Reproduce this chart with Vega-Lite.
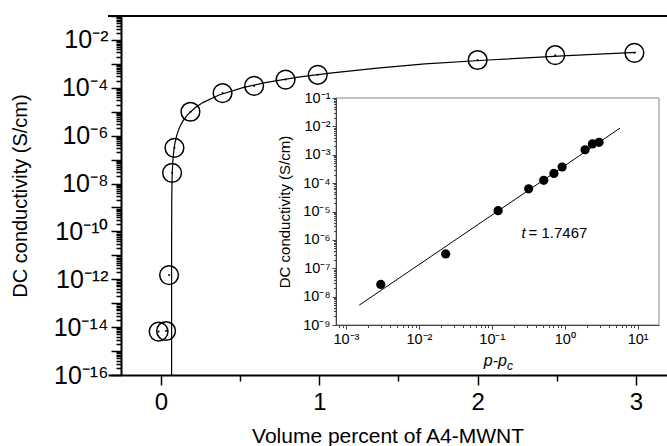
{
  "$schema": "https://vega.github.io/schema/vega-lite/v6.json",
  "width": 559,
  "height": 359,
  "autosize": {"type": "none"},
  "padding": {"left": 108, "top": 16, "right": 0, "bottom": 71},
  "background": "white",
  "config": {"view": {"stroke": null}, "font": "Liberation Sans", "axis": {"grid": false}},
  "datasets": {
    "fit": [
      {"p": 0.067, "sigma": 1e-16},
      {"p": 0.067001, "sigma": 1.36e-14},
      {"p": 0.0671, "sigma": 4.23e-11},
      {"p": 0.068, "sigma": 2.36e-9},
      {"p": 0.070, "sigma": 1.61e-8},
      {"p": 0.073, "sigma": 5.4e-8},
      {"p": 0.077, "sigma": 1.32e-7},
      {"p": 0.082, "sigma": 2.67e-7},
      {"p": 0.087, "sigma": 4.42e-7},
      {"p": 0.097, "sigma": 8.97e-7},
      {"p": 0.107, "sigma": 1.48e-6},
      {"p": 0.122, "sigma": 2.59e-6},
      {"p": 0.137, "sigma": 3.94e-6},
      {"p": 0.167, "sigma": 7.35e-6},
      {"p": 0.217, "sigma": 1.49e-5},
      {"p": 0.267, "sigma": 2.47e-5},
      {"p": 0.367, "sigma": 5.01e-5},
      {"p": 0.517, "sigma": 1.02e-4},
      {"p": 0.667, "sigma": 1.68e-4},
      {"p": 0.867, "sigma": 2.78e-4},
      {"p": 1.067, "sigma": 4.1e-4},
      {"p": 1.367, "sigma": 6.7e-4},
      {"p": 1.667, "sigma": 1.0e-3},
      {"p": 2.067, "sigma": 1.45e-3},
      {"p": 2.567, "sigma": 2.2e-3},
      {"p": 3.0, "sigma": 3.0e-3}
    ],
    "main": [
      {"p": -0.015, "sigma": 6.5e-15},
      {"p": 0.032, "sigma": 6.9e-15},
      {"p": 0.051, "sigma": 1.5e-12},
      {"p": 0.07, "sigma": 2.8e-8},
      {"p": 0.085, "sigma": 3.1e-7},
      {"p": 0.186, "sigma": 1.0e-5},
      {"p": 0.389, "sigma": 6.0e-5},
      {"p": 0.588, "sigma": 1.2e-4},
      {"p": 0.787, "sigma": 2.2e-4},
      {"p": 0.99, "sigma": 3.5e-4},
      {"p": 2.0, "sigma": 1.45e-3},
      {"p": 2.49, "sigma": 2.3e-3},
      {"p": 2.99, "sigma": 2.9e-3}
    ],
    "top": [{"sigma": 0.1}],
    "frame": [{"d": 0.00073, "d2": 19.6, "s": 1e-9, "s2": 0.1}],
    "insetfit": [{"d": 0.00152, "s": 5.0e-9}, {"d": 5.74, "s": 8.7e-3}],
    "insetpts": [
      {"d": 0.003, "s": 2.7e-8},
      {"d": 0.0233, "s": 3.2e-7},
      {"d": 0.122, "s": 1.07e-5},
      {"d": 0.32, "s": 6.3e-5},
      {"d": 0.515, "s": 1.26e-4},
      {"d": 0.71, "s": 2.2e-4},
      {"d": 0.92, "s": 3.7e-4},
      {"d": 1.9, "s": 1.5e-3},
      {"d": 2.39, "s": 2.4e-3},
      {"d": 2.95, "s": 2.75e-3}
    ],
    "tlabel": [{"d": 0.29, "s": 1.8e-6, "txt": "t"}],
    "tvalue": [{"d": 0.29, "s": 1.8e-6, "txt": "= 1.7467"}],
    "xtitle": [{"d": 0.1614, "s": 5.5e-11, "txt": "p-p"}],
    "xsub": [{"d": 0.1614, "s": 5.5e-11, "txt": "c"}]
  },
  "layer": [
    {
      "layer": [
        {
          "data": {"name": "fit"},
          "mark": {"type": "line", "color": "black", "strokeWidth": 1.2, "clip": true},
          "encoding": {
            "x": {
              "field": "p", "type": "quantitative",
              "scale": {"domain": [-0.3347, 3.196], "nice": false, "zero": false},
              "axis": {
                "title": "Volume percent of A4-MWNT",
                "orient": "bottom",
                "values": [0, 0.5, 1, 1.5, 2, 2.5, 3],
                "labelExpr": "datum.value % 1 == 0 ? format(datum.value, 'd') : ''",
                "tickSize": {"condition": {"test": "datum.value % 1 == 0", "value": 10}, "value": 6},
                "tickWidth": 1.5, "tickColor": "black",
                "domainWidth": 2, "domainColor": "black",
                "labelFontSize": 24, "labelColor": "black", "labelPadding": 5,
                "labelFlush": false, "labelOverlap": false,
                "titleFontSize": 21, "titleFontWeight": "normal", "titleColor": "black", "titlePadding": 11
              }
            },
            "y": {
              "field": "sigma", "type": "quantitative",
              "scale": {"type": "log", "domain": [1e-16, 0.1], "nice": false},
              "axis": {
                "title": "DC conductivity (S/cm)",
                "orient": "left",
                "offset": -13,
                "tickCount": 150,
                "labelExpr": "abs(datum.value/pow(10,round(log(datum.value)/LN10))-1)<0.01 && round(log(datum.value)/LN10)%2==0 ? ['10⁰','10⁻¹','10⁻²','10⁻³','10⁻⁴','10⁻⁵','10⁻⁶','10⁻⁷','10⁻⁸','10⁻⁹','10⁻¹⁰','10⁻¹¹','10⁻¹²','10⁻¹³','10⁻¹⁴','10⁻¹⁵','10⁻¹⁶'][-round(log(datum.value)/LN10)] : ''",
                "tickSize": {"condition": {"test": "abs(datum.value/pow(10,round(log(datum.value)/LN10))-1)<0.01", "value": 10}, "value": 5},
                "tickWidth": 1.5, "tickColor": "black",
                "domainWidth": 2, "domainColor": "black",
                "labelFontSize": 25, "labelColor": "black", "labelPadding": 3,
                "labelFlush": false, "labelOverlap": false,
                "titleFontSize": 20, "titleFontWeight": "normal", "titleColor": "black", "titlePadding": 23
              }
            }
          }
        },
        {
          "data": {"name": "main"},
          "mark": {"type": "point", "shape": "circle", "size": 350, "filled": false, "color": "black", "strokeWidth": 1.5, "opacity": 1},
          "encoding": {
            "x": {"field": "p", "type": "quantitative"},
            "y": {"field": "sigma", "type": "quantitative"}
          }
        },
        {
          "data": {"name": "main"},
          "mark": {"type": "point", "shape": "circle", "size": 4, "filled": true, "color": "black", "opacity": 1},
          "encoding": {
            "x": {"field": "p", "type": "quantitative"},
            "y": {"field": "sigma", "type": "quantitative"}
          }
        },
        {
          "data": {"name": "top"},
          "mark": {"type": "rule", "color": "black", "strokeWidth": 2},
          "encoding": {"y": {"field": "sigma", "type": "quantitative"}}
        }
      ]
    },
    {
      "layer": [
        {
          "data": {"name": "frame"},
          "mark": {"type": "rect", "fill": "white", "stroke": "#888888", "strokeWidth": 1},
          "encoding": {
            "x": {
              "field": "d", "type": "quantitative",
              "scale": {"type": "log", "domain": [0.00073, 19.6], "range": [228, 551], "nice": false},
              "axis": {
                "title": null,
                "orient": "bottom",
                "offset": -50,
                "zindex": 1,
                "values": [0.0008, 0.0009, 0.001, 0.002, 0.003, 0.004, 0.005, 0.006, 0.007, 0.008, 0.009, 0.01, 0.02, 0.03, 0.04, 0.05, 0.06, 0.07, 0.08, 0.09, 0.1, 0.2, 0.3, 0.4, 0.5, 0.6, 0.7, 0.8, 0.9, 1, 2, 3, 4, 5, 6, 7, 8, 9, 10],
                "labelExpr": "datum.value == 0.001 ? '10⁻³' : datum.value == 0.01 ? '10⁻²' : datum.value == 0.1 ? '10⁻¹' : datum.value == 1 ? '10⁰' : datum.value == 10 ? '10¹' : ''",
                "tickSize": {"condition": {"test": "indexof([0.001, 0.01, 0.1, 1, 10], datum.value) >= 0", "value": 4}, "value": 2.5},
                "tickWidth": 1, "tickColor": "#444444",
                "domainWidth": 1, "domainColor": "#444444",
                "labelFontSize": 14.5, "labelColor": "black", "labelPadding": 3,
                "labelFlush": false, "labelOverlap": false
              }
            },
            "x2": {"field": "d2"},
            "y": {
              "field": "s", "type": "quantitative",
              "scale": {"type": "log", "domain": [1e-9, 0.1], "range": [309, 82], "nice": false},
              "axis": {
                "title": "DC conductivity (S/cm)",
                "orient": "left",
                "offset": -228,
                "zindex": 1,
                "tickCount": 100,
                "labelExpr": "abs(datum.value/pow(10,round(log(datum.value)/LN10))-1)<0.01 ? ['10⁰','10⁻¹','10⁻²','10⁻³','10⁻⁴','10⁻⁵','10⁻⁶','10⁻⁷','10⁻⁸','10⁻⁹'][-round(log(datum.value)/LN10)] : ''",
                "tickSize": {"condition": {"test": "abs(datum.value/pow(10,round(log(datum.value)/LN10))-1)<0.01", "value": 4}, "value": 2.5},
                "tickWidth": 1, "tickColor": "#444444",
                "domainWidth": 1, "domainColor": "#444444",
                "labelFontSize": 14.5, "labelColor": "black", "labelPadding": 2,
                "labelFlush": false, "labelOverlap": false,
                "titleFontSize": 15, "titleFontWeight": "normal", "titleColor": "black", "titlePadding": 10
              }
            },
            "y2": {"field": "s2"}
          }
        },
        {
          "data": {"name": "insetfit"},
          "mark": {"type": "line", "color": "black", "strokeWidth": 1},
          "encoding": {
            "x": {"field": "d", "type": "quantitative"},
            "y": {"field": "s", "type": "quantitative"}
          }
        },
        {
          "data": {"name": "insetpts"},
          "mark": {"type": "point", "shape": "circle", "size": 85, "filled": true, "color": "black", "opacity": 1},
          "encoding": {
            "x": {"field": "d", "type": "quantitative"},
            "y": {"field": "s", "type": "quantitative"}
          }
        },
        {
          "data": {"name": "tlabel"},
          "mark": {"type": "text", "align": "right", "baseline": "middle", "fontSize": 15, "fontStyle": "italic", "color": "black"},
          "encoding": {
            "x": {"field": "d", "type": "quantitative"},
            "y": {"field": "s", "type": "quantitative"},
            "text": {"field": "txt"}
          }
        },
        {
          "data": {"name": "tvalue"},
          "mark": {"type": "text", "align": "left", "baseline": "middle", "fontSize": 15, "color": "black", "dx": 3},
          "encoding": {
            "x": {"field": "d", "type": "quantitative"},
            "y": {"field": "s", "type": "quantitative"},
            "text": {"field": "txt"}
          }
        },
        {
          "data": {"name": "xtitle"},
          "mark": {"type": "text", "align": "right", "baseline": "middle", "fontSize": 16, "fontStyle": "italic", "color": "black"},
          "encoding": {
            "x": {"field": "d", "type": "quantitative"},
            "y": {"field": "s", "type": "quantitative"},
            "text": {"field": "txt"}
          }
        },
        {
          "data": {"name": "xsub"},
          "mark": {"type": "text", "align": "left", "baseline": "middle", "fontSize": 12, "fontStyle": "italic", "color": "black", "dy": 5},
          "encoding": {
            "x": {"field": "d", "type": "quantitative"},
            "y": {"field": "s", "type": "quantitative"},
            "text": {"field": "txt"}
          }
        }
      ]
    }
  ],
  "resolve": {"scale": {"x": "independent", "y": "independent"}, "axis": {"x": "independent", "y": "independent"}}
}
